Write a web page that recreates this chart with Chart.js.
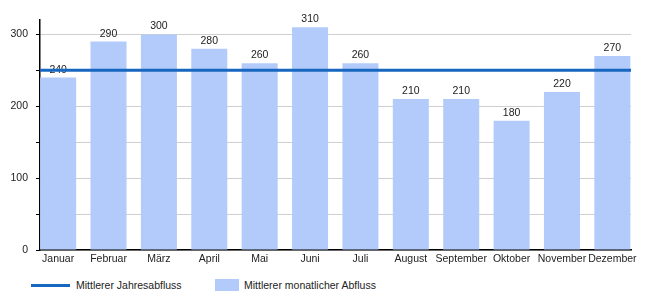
<!DOCTYPE html>
<html>
<head>
<meta charset="utf-8">
<script src="https://cdn.jsdelivr.net/npm/chart.js@4/dist/chart.umd.min.js"></script>
<style>
  html, body { margin: 0; padding: 0; background: #fff; }
  #wrap { position: relative; width: 650px; height: 300px; }
  #chart-box { position: absolute; left: 0; top: 0; width: 650px; height: 268px; }
  .legend { position: absolute; top: 278px; font: 10.5px "Liberation Sans", Arial, sans-serif; color: #222; line-height: 14px; }
  .legend .sym { position: absolute; }
</style>
</head>
<body>
<div id="wrap">
  <div id="chart-box"><canvas id="flow-chart"></canvas></div>
  <div class="legend" style="left:31px; width:170px;">
    <span class="sym" style="left:0; top:6px; width:39px; height:3px; background:#1766bf;"></span>
    <span style="position:absolute; left:45px; top:0; white-space:nowrap;">Mittlerer Jahresabfluss</span>
  </div>
  <div class="legend" style="left:215px; width:200px;">
    <span class="sym" style="left:0; top:1px; width:24px; height:12px; background:#b3cbfa;"></span>
    <span style="position:absolute; left:29px; top:0; white-space:nowrap;">Mittlerer monatlicher Abfluss</span>
  </div>
</div>

<script>
// Monatsnamen und Abflusswerte
const months = ['Januar', 'Februar', 'März', 'April', 'Mai', 'Juni', 'Juli',
                'August', 'September', 'Oktober', 'November', 'Dezember'];
const monthlyFlow = [240, 290, 300, 280, 260, 310, 260, 210, 210, 180, 220, 270];
const annualMean = 250;
const yGrid = [0, 50, 100, 150, 200, 250, 300];
const yTicks = [0, 100, 200, 300];

const X_MIN = -0.36;
const X_MAX = 11.37;

// Werte über den Balken schreiben (vor der Linie, daher afterDatasetDraw)
const valueLabels = {
    id: 'valueLabels',
    afterDatasetDraw(chart, args) {
        if (args.index !== 1) return;
        const ctx = chart.ctx;
        ctx.save();
        ctx.font = '10.5px "Liberation Sans", Arial, sans-serif';
        ctx.fillStyle = '#222';
        ctx.textAlign = 'center';
        ctx.textBaseline = 'alphabetic';
        args.meta.data.forEach((bar, i) => {
            ctx.fillText(String(monthlyFlow[i]), bar.x, bar.y - 5);
        });
        ctx.restore();
    }
};

Chart.defaults.font.family = '"Liberation Sans", Arial, sans-serif';
Chart.defaults.font.size = 10.5;
Chart.defaults.color = '#222';

new Chart(document.getElementById('flow-chart'), {
    type: 'bar',
    data: {
        datasets: [{
            type: 'line',
            label: 'Mittlerer Jahresabfluss',
            data: [{ x: X_MIN, y: annualMean }, { x: X_MAX, y: annualMean }],
            borderColor: '#1766bf',
            borderWidth: 3,
            pointRadius: 0,
            order: 0
        }, {
            label: 'Mittlerer monatlicher Abfluss',
            data: monthlyFlow.map((v, i) => ({ x: i, y: v })),
            backgroundColor: '#b3cbfa',
            borderWidth: 0,
            barPercentage: 0.715,
            categoryPercentage: 1,
            order: 1
        }]
    },
    options: {
        responsive: true,
        maintainAspectRatio: false,
        animation: false,
        layout: { padding: { top: 20, right: 19, left: 0, bottom: 0 } },
        plugins: { legend: { display: false }, tooltip: { enabled: false } },
        scales: {
            x: {
                type: 'linear',
                min: X_MIN,
                max: X_MAX,
                offset: false,
                bounds: 'data',
                grid: { display: false, drawTicks: false, offset: false },
                border: { display: true, color: '#000', width: 1.5 },
                ticks: {
                    autoSkip: false,
                    maxRotation: 0,
                    padding: 3,
                    callback: (v) => months[v]
                },
                afterBuildTicks: (scale) => {
                    scale.ticks = months.map((m, i) => ({ value: i }));
                },
                afterFit: (scale) => { scale.height = 18; }
            },
            y: {
                min: 0,
                max: 320,
                bounds: 'data',
                grid: {
                    color: '#cfcfcf',
                    tickColor: '#000',
                    tickLength: 4
                },
                border: { color: '#000', width: 1.5 },
                ticks: {
                    autoSkip: false,
                    padding: 8,
                    callback: (v) => yTicks.includes(v) ? String(v) : ''
                },
                afterBuildTicks: (scale) => {
                    scale.ticks = yGrid.map((v) => ({ value: v }));
                },
                afterFit: (scale) => { scale.width = 40; }
            }
        }
    },
    plugins: [valueLabels]
});
</script>
</body>
</html>
